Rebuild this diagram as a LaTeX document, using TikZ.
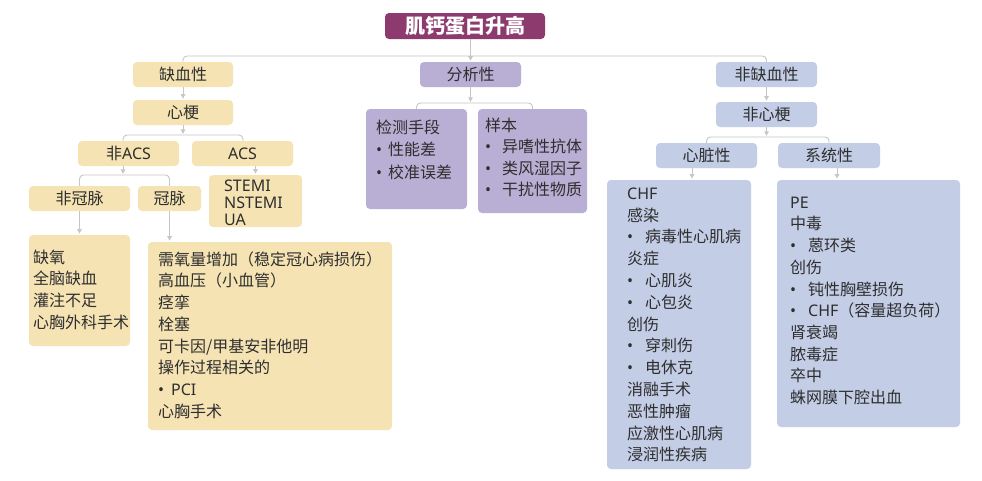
\documentclass[tikz,border=0pt]{standalone}
\usepackage{fontspec}
\setmainfont{Noto Sans CJK SC}
\newfontfamily\latinfont{Noto Sans}
\usetikzlibrary{arrows.meta}
\definecolor{yel}{HTML}{F5E3B4}
\definecolor{lav}{HTML}{B9AFD4}
\definecolor{blu}{HTML}{C3CDE6}
\definecolor{ttl}{HTML}{8D3A6E}
\definecolor{lc}{HTML}{C6C6C6}
\definecolor{txt}{HTML}{2E2E2E}
\newcommand\lt[1]{{\latinfont #1}}
\newcommand\bul[1]{\makebox[#1][l]{\latinfont •}}
\newcommand\fs{\fontsize{16}{21.7}\selectfont}
\newcommand\mkbox[7]{%
  \pgfmathsetmacro\bw{#4-#2}\pgfmathsetmacro\bh{#5-#3}%
  \node[#6, minimum width=\bw pt, minimum height=\bh pt] (#1) at ({(#2+#4)/2},{(#3+#5)/2}) {#7};}
\tikzset{
  box/.style={inner sep=0pt, rounded corners=4pt, text=txt, font=\fs},
  yelbox/.style={box, fill=yel},
  lavbox/.style={box, fill=lav},
  blubox/.style={box, fill=blu},
  conn/.style={draw=lc, line width=0.9pt, rounded corners=4pt},
  arr/.style={draw=lc, line width=0.9pt, -{Triangle[width=4.5pt,length=4.5pt]}, shorten >=1.2pt},
  txtblk/.style={anchor=north west, inner sep=0pt, align=left, font=\fs, text=txt},
}
\begin{document}
\begin{tikzpicture}[x=1pt,y=-1pt]
\fill[white] (0,0) rectangle (982,480);
\useasboundingbox (0,0) rectangle (982,480);
% boxes
\mkbox{title}{385}{13}{545}{39}{box, fill=ttl, text=white, font=\fontsize{20}{24}\selectfont\bfseries}{肌钙蛋白升高}
\mkbox{isc}{133}{62}{233}{87}{yelbox}{缺血性}
\mkbox{ana}{420}{62}{521}{87}{lavbox}{分析性}
\mkbox{nonisc}{716}{62}{817}{87}{blubox}{非缺血性}
\mkbox{mi}{133}{100}{233}{125}{yelbox}{心梗}
\mkbox{nonmi}{716}{102}{817}{127}{blubox}{非心梗}
\mkbox{det}{366}{109}{467}{209}{lavbox}{}
\mkbox{samp}{478}{109}{587}{213}{lavbox}{}
\mkbox{nacs}{78}{141}{179}{166}{yelbox}{非\lt{ACS}}
\mkbox{acs}{192}{141}{293}{166}{yelbox}{\lt{ACS}}
\mkbox{card}{656}{143}{757}{168}{blubox}{心脏性}
\mkbox{sys}{778}{143}{880}{168}{blubox}{系统性}
\mkbox{ncor}{29}{186}{130}{211}{yelbox}{非冠脉}
\mkbox{cor}{138}{186}{201}{211}{yelbox}{冠脉}
\mkbox{stemi}{209}{175}{302}{227}{yelbox}{}
\mkbox{hyp}{29}{235}{130}{346}{yelbox}{}
\mkbox{big}{148}{242}{392}{430}{yelbox}{}
\mkbox{chf}{607}{180}{751}{469}{blubox}{}
\mkbox{pe}{777}{180}{960}{427}{blubox}{}
% box texts
\node[txtblk, font=\fontsize{16}{22.5}\selectfont] (dett) at (376,118) {\rule{0pt}{15pt}检测手段\\\bul{12pt}性能差\\\bul{12pt}校准误差};
\node[txtblk, font=\fontsize{16}{21.5}\selectfont] (sampt) at (485,116) {\rule{0pt}{15pt}样本\\\bul{17pt}异嗜性抗体\\\bul{17pt}类风湿因子\\\bul{17pt}干扰性物质};
\node[txtblk, font=\fontsize{16}{17}\selectfont\latinfont] (stemit) at (224,176) {\rule{0pt}{15pt}STEMI\\NSTEMI\\UA};
\node[txtblk] (hypt) at (33,248) {\rule{0pt}{15pt}缺氧\\全脑缺血\\灌注不足\\心胸外科手术};
\node[txtblk] (bigt) at (158,250) {\rule{0pt}{15pt}需氧量增加（稳定冠心病损伤）\\高血压（小血管）\\痉挛\\栓塞\\可卡因/甲基安非他明\\操作过程相关的\\\bul{13pt}\lt{PCI}\\心胸手术};
\node[txtblk, font=\fontsize{16}{21.8}\selectfont] (chft) at (627,184) {\rule{0pt}{15pt}\lt{CHF}\\感染\\\bul{18pt}病毒性心肌病\\炎症\\\bul{18pt}心肌炎\\\bul{18pt}心包炎\\创伤\\\bul{18pt}穿刺伤\\\bul{18pt}电休克\\消融手术\\恶性肿瘤\\应激性心肌病\\浸润性疾病};
\node[txtblk] (pet) at (790,193) {\rule{0pt}{15pt}\lt{PE}\\中毒\\\bul{18pt}蒽环类\\创伤\\\bul{18pt}钝性胸壁损伤\\\bul{18pt}\lt{CHF}（容量超负荷）\\肾衰竭\\脓毒症\\卒中\\蛛网膜下腔出血};
% connectors
\coordinate (b1) at (0,56);
\draw[conn] (isc.north) -- (isc.north |- b1) -- (nonisc.north |- b1) -- (nonisc.north);
\draw[arr] (title.south -| ana.north) -- (ana.north);
\draw[arr] (isc.south) -- (mi.north);
\coordinate (b2l) at (123,135);
\coordinate (b2r) at (243,135);
\draw[conn] (nacs.north -| b2l) -- (b2l) -- (b2r) -- (acs.north -| b2r);
\draw[arr] (mi.south) -- (mi.south |- b2l);
\coordinate (b3) at (0,175);
\draw[conn] (ncor.north) -- (ncor.north |- b3) -- (cor.north |- b3) -- (cor.north);
\draw[arr] (nacs.south -| b2l) -- (b3 -| b2l);
\draw[arr] (acs.south -| stemi.north) -- (stemi.north);
\draw[arr] (ncor.south) -- (hyp.north);
\draw[arr] (cor.south) -- (big.north -| cor.south);
\coordinate (b4) at (0,103);
\draw[conn] (det.north) -- (det.north |- b4) -- (samp.north |- b4) -- (samp.north);
\draw[arr] (ana.south) -- (ana.south |- b4);
\draw[arr] (nonisc.south) -- (nonmi.north);
\coordinate (b5) at (0,137);
\draw[conn] (card.north) -- (card.north |- b5) -- (sys.north |- b5) -- (sys.north);
\draw[arr] (nonmi.south) -- (nonmi.south |- b5);
\coordinate (c1) at (692,0);
\coordinate (c2) at (837,0);
\draw[arr] (card.south -| c1) -- (chf.north -| c1);
\draw[arr] (sys.south -| c2) -- (pe.north -| c2);
\end{tikzpicture}
\end{document}
